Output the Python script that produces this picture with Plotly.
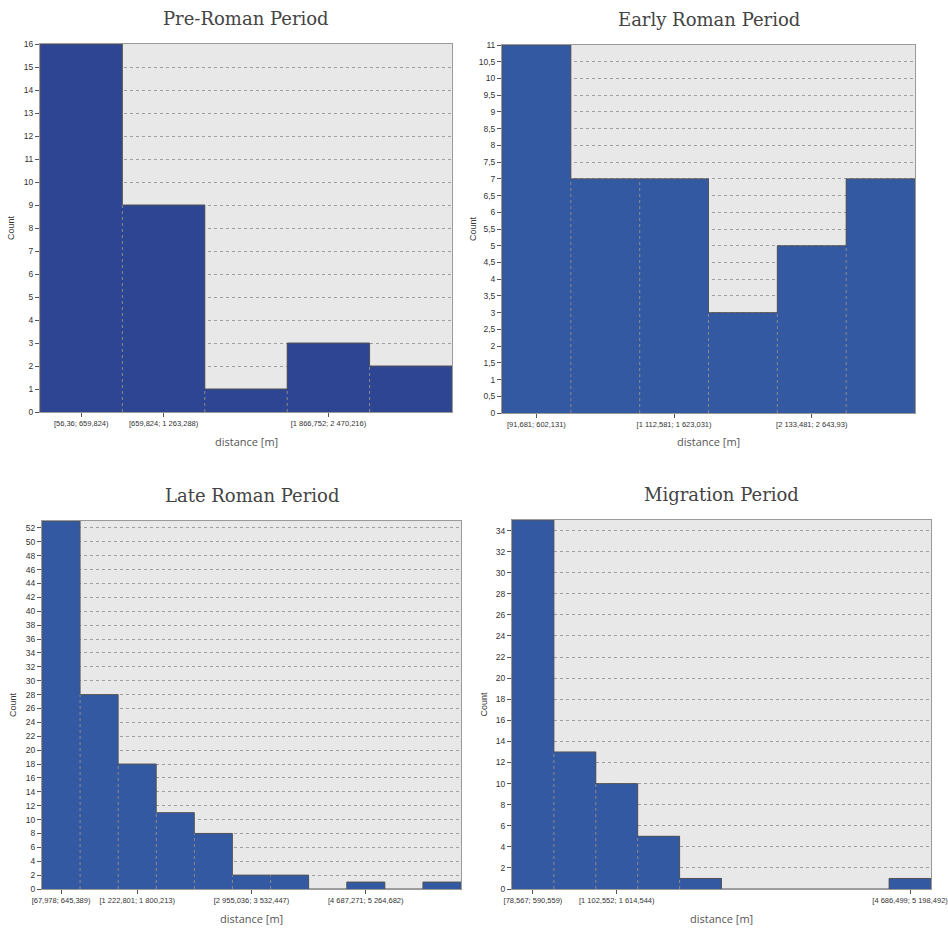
import plotly.graph_objects as go

# Histogram counts of nearest-neighbour distances per period
pre_roman_counts = [16, 9, 1, 3, 2]
early_roman_counts = [11, 7, 7, 3, 5, 7]
late_roman_counts = [53, 28, 18, 11, 8, 2, 2, 0, 1, 0, 1]
migration_counts = [35, 13, 10, 5, 1, 0, 0, 0, 0, 1]

# Labelled bins (index of bin, interval label)
pre_roman_tick_bins = [0, 1, 3]
pre_roman_tick_labels = ["[56,36; 659,824)", "[659,824; 1 263,288)", "[1 866,752; 2 470,216)"]
early_roman_tick_bins = [0, 2, 4]
early_roman_tick_labels = ["[91,681; 602,131)", "[1 112,581; 1 623,031)", "[2 133,481; 2 643,93)"]
late_roman_tick_bins = [0, 2, 5, 8]
late_roman_tick_labels = ["[67,978; 645,389)", "[1 222,801; 1 800,213)",
                          "[2 955,036; 3 532,447)", "[4 687,271; 5 264,682)"]
migration_tick_bins = [0, 2, 9]
migration_tick_labels = ["[78,567; 590,559)", "[1 102,552; 1 614,544)", "[4 686,499; 5 198,492)"]

titles = ["Pre-Roman Period", "Early Roman Period", "Late Roman Period", "Migration Period"]

W, H = 948, 932

panels = [
    dict(counts=pre_roman_counts, bins=pre_roman_tick_bins, labels=pre_roman_tick_labels,
         px=(40, 452), py=(44, 412), ymax=16, dtick=1, color="#2e4593"),
    dict(counts=early_roman_counts, bins=early_roman_tick_bins, labels=early_roman_tick_labels,
         px=(502, 915), py=(45, 413), ymax=11, dtick=0.5, color="#3459a3"),
    dict(counts=late_roman_counts, bins=late_roman_tick_bins, labels=late_roman_tick_labels,
         px=(42, 461), py=(521, 889), ymax=53, dtick=2, color="#3459a3"),
    dict(counts=migration_counts, bins=migration_tick_bins, labels=migration_tick_labels,
         px=(512, 931), py=(520, 889), ymax=35, dtick=2, color="#3459a3"),
]

fig = go.Figure()
layout = dict(
    width=W, height=H, margin=dict(l=0, r=0, t=0, b=0),
    paper_bgcolor="white", plot_bgcolor="#e8e8e8",
    showlegend=False, separators=", ", bargap=0,
)
annotations = []
ytick_font = dict(family="Liberation Sans", size=8.5, color="#333")
xtick_font = dict(family="Liberation Sans", size=7.5, color="#333")

for i, p in enumerate(panels):
    n = len(p["counts"])
    ax = "" if i == 0 else str(i + 1)
    xref, yref = "x" + ax, "y" + ax
    centers = [k + 0.5 for k in range(n)]

    fig.add_trace(go.Bar(x=centers, y=p["counts"], width=1, marker=dict(color=p["color"], line=dict(width=0)),
                         xaxis=xref, yaxis=yref, hoverinfo="skip"))

    # dotted separators between adjacent bars
    vx, vy = [], []
    for k in range(1, n):
        low = min(p["counts"][k - 1], p["counts"][k])
        if low > 0:
            vx += [k, k, None]
            vy += [0, low, None]
    fig.add_trace(go.Scatter(x=vx, y=vy, mode="lines", line=dict(color="#8a8a8a", width=1, dash="dot"),
                             xaxis=xref, yaxis=yref, hoverinfo="skip"))

    # solid outline of the histogram
    sx, sy = [0], [0]
    for k, h in enumerate(p["counts"]):
        sx += [k, k + 1]
        sy += [h, h]
    sx.append(n)
    sy.append(0)
    fig.add_trace(go.Scatter(x=sx, y=sy, mode="lines", line=dict(color="#555555", width=1),
                             xaxis=xref, yaxis=yref, hoverinfo="skip"))

    x0, x1 = p["px"]
    yt, yb = p["py"]
    layout["xaxis" + ax] = dict(
        domain=[x0 / W, x1 / W], range=[0, n], anchor=yref, automargin=False,
        tickvals=[b + 0.5 for b in p["bins"]], ticktext=p["labels"], tickangle=0,
        ticklabeloverflow="allow",
        ticks="outside", ticklen=4, tickcolor="#555", tickfont=xtick_font,
        showgrid=False, zeroline=False, showline=True, linecolor="#9a9a9a", linewidth=1, mirror=True,
    )
    layout["yaxis" + ax] = dict(
        domain=[(H - yb) / H, (H - yt) / H], range=[0, p["ymax"]], anchor=xref, automargin=False,
        dtick=p["dtick"], tick0=0,
        ticks="outside", ticklen=4, tickcolor="#555", tickfont=ytick_font,
        showgrid=True, gridcolor="#a0a0a0", griddash="dot", gridwidth=1,
        zeroline=False, showline=True, linecolor="#9a9a9a", linewidth=1, mirror=True,
    )

    cx = (x0 + x1) / 2
    annotations.append(dict(text=titles[i], x=cx / W, y=1 - (yt - 26) / H, xref="paper", yref="paper",
                            xanchor="center", yanchor="middle", showarrow=False,
                            font=dict(family="DejaVu Serif", size=18, color="#444")))
    annotations.append(dict(text="distance [m]", x=cx / W, y=1 - (yb + 29) / H, xref="paper", yref="paper",
                            xanchor="center", yanchor="middle", showarrow=False,
                            font=dict(family="Open Sans", size=11, color="#555")))
    annotations.append(dict(text="Count", x=(x0 - 29) / W, y=1 - (yt + yb) / 2 / H, xref="paper", yref="paper",
                            xanchor="center", yanchor="middle", showarrow=False, textangle=-90,
                            font=dict(family="Liberation Sans", size=9, color="#333")))

layout["annotations"] = annotations
fig.update_layout(**layout)
fig.write_html("out.html")
